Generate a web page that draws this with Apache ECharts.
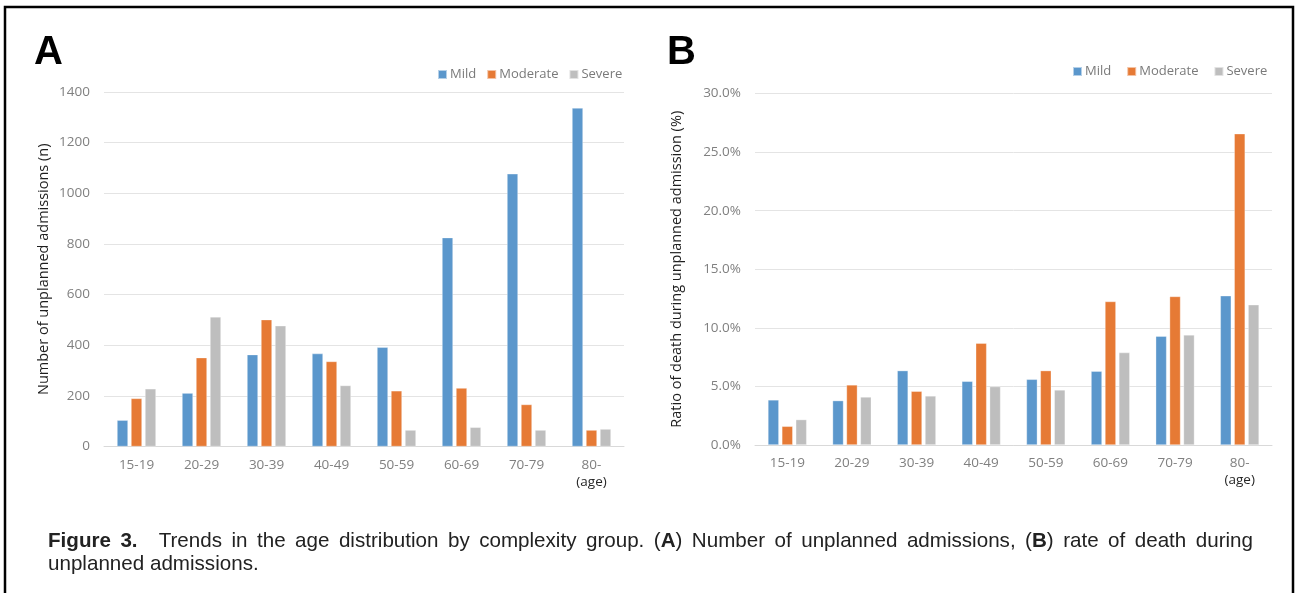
<!DOCTYPE html>
<html>
<head>
<meta charset="utf-8">
<script src="https://cdn.jsdelivr.net/npm/echarts@6/dist/echarts.min.js"></script>
<style>
  html, body { margin: 0; padding: 0; background: #fff; }
  #chart { position: absolute; left: 0; top: 0; width: 1297px; height: 593px; }
  #caption {
    position: absolute; left: 48px; top: 528px; width: 1205px;
    font-family: "Liberation Sans", Arial, sans-serif; font-size: 20.6px; line-height: 23px;
    color: #222;
  }
  #caption .l1 { text-align: justify; text-align-last: justify; white-space: nowrap; }
  #caption .l2 { text-align: left; }
  #caption b.fig { font-weight: bold; margin-right: 12px; }
</style>
</head>
<body>
<div id="chart"></div>
<div id="caption"><div class="l1"><b class="fig">Figure 3.</b> Trends in the age distribution by complexity group. (<b>A</b>) Number of unplanned admissions, (<b>B</b>) rate of death during</div><div class="l2">unplanned admissions.</div></div>
<script>
const categories = ['15-19', '20-29', '30-39', '40-49', '50-59', '60-69', '70-79', '80-'];
const seriesNames = ['Mild', 'Moderate', 'Severe'];

// Panel A: number of unplanned admissions (n)
const countMild = [104, 211, 363, 367, 392, 825, 1077, 1337];
const countModerate = [190, 351, 501, 336, 220, 231, 166, 65];
const countSevere = [228, 512, 477, 241, 65, 76, 65, 69];

// Panel B: ratio of death during unplanned admission (%)
const rateMild = [3.85, 3.79, 6.35, 5.44, 5.61, 6.30, 9.29, 12.74];
const rateModerate = [1.60, 5.13, 4.59, 8.69, 6.35, 12.25, 12.68, 26.57];
const rateSevere = [2.17, 4.10, 4.19, 4.99, 4.70, 7.89, 9.40, 11.97];

const countTicks = { min: 0, max: 1400, interval: 200 };
const rateTicks = { min: 0, max: 30, interval: 5 };

const colors = ['#5B97CC', '#E67A35', '#BEBEBE'];
const font = '"Open Sans", "Noto Sans", sans-serif';
const tickColor = '#808080';
const gridColor = '#E4E4E4';
const tickSize = 13.5;

function xAxisFor(gridIndex) {
  return {
    type: 'category', gridIndex: gridIndex, data: categories,
    axisLine: { lineStyle: { color: '#D9D9D9', width: 1 } },
    axisTick: { show: false },
    axisLabel: {
      interval: 0,
      color: tickColor, fontSize: tickSize, fontFamily: font, margin: 10, lineHeight: 17,
      formatter: function (v) { return v === '80-' ? '80-\n{age|(age)}' : v; },
      rich: { age: { color: '#262626', fontSize: tickSize, fontFamily: font, lineHeight: 17 } }
    }
  };
}

function barSeries(name, data, axisIdx, colorIdx) {
  return {
    name: name, type: 'bar', xAxisIndex: axisIdx, yAxisIndex: axisIdx, data: data,
    barGap: '27%', barCategoryGap: '40%',
    itemStyle: { color: colors[colorIdx], borderColor: 'rgba(255,255,255,0.55)', borderWidth: 0.6 },
    emphasis: { disabled: true }
  };
}

const legendCommon = {
  data: seriesNames, icon: 'rect', itemWidth: 9, itemHeight: 9,
  textStyle: { color: '#7A7A7A', fontSize: 13, fontFamily: font, padding: [0, 0, 0, -2] },
  selectedMode: false
};

const chart = echarts.init(document.getElementById('chart'), null, { renderer: 'canvas' });
chart.setOption({
  animation: false,
  backgroundColor: '#fff',
  grid: [
    { left: 104, top: 92, width: 520, height: 354.5, containLabel: false },
    { left: 755, top: 93.5, width: 517, height: 351.5, containLabel: false }
  ],
  legend: [
    Object.assign({ left: 432, top: 63, itemGap: 10 }, legendCommon),
    Object.assign({ left: 1067, top: 60, itemGap: 15 }, legendCommon)
  ],
  xAxis: [xAxisFor(0), xAxisFor(1)],
  yAxis: [
    {
      type: 'value', gridIndex: 0, min: countTicks.min, max: countTicks.max, interval: countTicks.interval,
      name: 'Number of unplanned admissions (n)', nameLocation: 'middle', nameGap: 53,
      nameTextStyle: { color: '#1E1E1E', fontSize: 14.5, fontFamily: font },
      axisLine: { show: false }, axisTick: { show: false },
      axisLabel: { color: tickColor, fontSize: tickSize, fontFamily: font, margin: 14,
        formatter: function (v) { return String(v); } },
      splitLine: { lineStyle: { color: gridColor, width: 1 } }
    },
    {
      type: 'value', gridIndex: 1, min: rateTicks.min, max: rateTicks.max, interval: rateTicks.interval,
      name: 'Ratio of death during unplanned admission (%)', nameLocation: 'middle', nameGap: 71,
      nameTextStyle: { color: '#1E1E1E', fontSize: 14.5, fontFamily: font },
      axisLine: { show: false }, axisTick: { show: false },
      axisLabel: { color: tickColor, fontSize: tickSize, fontFamily: font, margin: 14,
        formatter: function (v) { return v.toFixed(1) + '%'; } },
      splitLine: { lineStyle: { color: gridColor, width: 1 } }
    }
  ],
  series: [
    barSeries('Mild', countMild, 0, 0),
    barSeries('Moderate', countModerate, 0, 1),
    barSeries('Severe', countSevere, 0, 2),
    barSeries('Mild', rateMild, 1, 0),
    barSeries('Moderate', rateModerate, 1, 1),
    barSeries('Severe', rateSevere, 1, 2)
  ],
  graphic: [
    { type: 'rect', shape: { x: 5, y: 7, width: 1288, height: 620 },
      style: { fill: 'none', stroke: '#000', lineWidth: 2.5 }, silent: true },
    { type: 'text', left: 34, top: 33,
      style: { text: 'A', font: 'bold 40px "Liberation Sans", Arial, sans-serif', fill: '#000' } },
    { type: 'text', left: 667, top: 33,
      style: { text: 'B', font: 'bold 40px "Liberation Sans", Arial, sans-serif', fill: '#000' } }
  ]
});
</script>
</body>
</html>
